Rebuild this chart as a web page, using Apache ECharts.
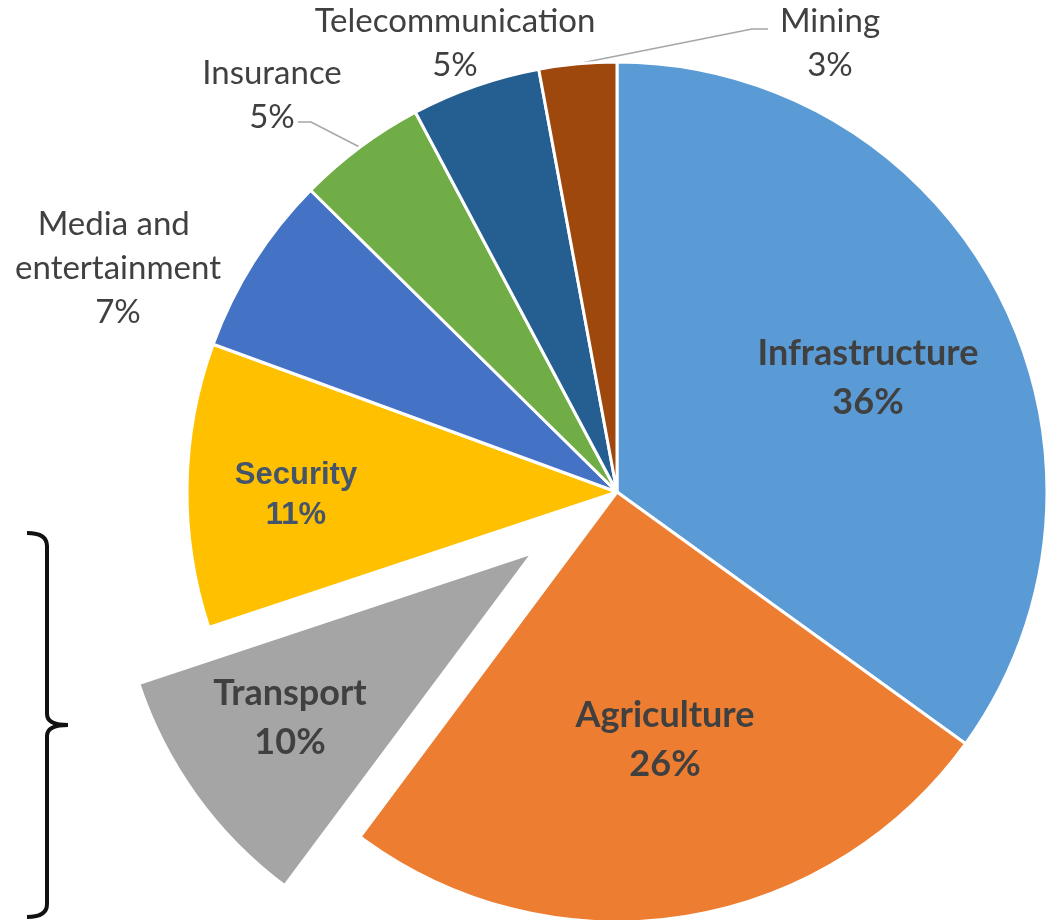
<!DOCTYPE html>
<html>
<head>
<meta charset="utf-8">
<script src="https://cdn.jsdelivr.net/npm/echarts@6/dist/echarts.min.js"></script>
<style>
  html, body { margin: 0; padding: 0; background: #ffffff; }
  #chart { width: 1055px; height: 920px; }
</style>
</head>
<body>
<div id="chart"></div>
<script>
// Sector shares, clockwise from 12 o'clock
const categories = ['Infrastructure', 'Agriculture', 'Transport', 'Security',
  'Media and entertainment', 'Insurance', 'Telecommunication', 'Mining'];
const shares = [36, 26, 10, 11, 7, 5, 5, 3];
const sliceColors = ['#5B9BD5', '#ED7D31', '#A5A5A5', '#FFC000',
  '#4472C4', '#70AD47', '#255E91', '#9E480E'];
const pulledOut = 'Transport';
const boldLabels = ['Infrastructure', 'Agriculture', 'Transport', 'Security'];
const leaderLabels = ['Insurance', 'Mining'];

// Pie geometry
const pieCenter = [617, 492];
const pieRadius = 430;
const pulledRadius = 415;
const pullDistance = 104;

// Where each label block sits (centre of the text block, in px)
const labelSpots = {
  'Infrastructure': [868, 378],
  'Agriculture': [665, 740],
  'Transport': [290, 718],
  'Security': [296, 495],
  'Media and entertainment': [118, 268],
  'Insurance': [272, 95],
  'Telecommunication': [455, 43],
  'Mining': [830, 43]
};
// Elbow and end of the two leader lines
const leaderPaths = {
  'Insurance': [[311, 122], [298, 122]],
  'Mining': [[752, 29], [768, 29]]
};

const plainFont = { fontFamily: 'Lato', fontSize: 33, lineHeight: 44, color: '#404040', fontWeight: 'normal' };
const boldFont = { fontFamily: 'Lato', fontSize: 36, lineHeight: 49, color: '#404040', fontWeight: 'bold' };
const securityFont = { fontFamily: 'Liberation Sans', fontSize: 31, lineHeight: 40, color: '#44546A', fontWeight: 'bold' };
const hidden = { color: 'rgba(0,0,0,0)', borderWidth: 0 };

// The pulled-out slice is drawn by a second pie whose centre is shifted
// along that slice's middle direction.
const total = shares.reduce(function (a, b) { return a + b; }, 0);
const pullIndex = categories.indexOf(pulledOut);
const before = shares.slice(0, pullIndex).reduce(function (a, b) { return a + b; }, 0);
const midTurn = (before + shares[pullIndex] / 2) / total * 2 * Math.PI; // clockwise from top
const pulledCenter = [
  pieCenter[0] + Math.sin(midTurn) * pullDistance,
  pieCenter[1] - Math.cos(midTurn) * pullDistance
];

function buildData(showItem) {
  return categories.map(function (name, i) {
    const visible = showItem(name);
    if (!visible) {
      return { name: name, value: shares[i], itemStyle: hidden,
        label: { show: false }, labelLine: { show: false } };
    }
    const bold = boldLabels.indexOf(name) >= 0;
    let font = bold ? boldFont : plainFont;
    if (name === 'Security') font = securityFont;
    const item = {
      name: name,
      value: shares[i],
      itemStyle: { color: sliceColors[i] },
      label: Object.assign({ show: true, position: bold ? 'inside' : 'outside' }, font),
      labelLine: { show: leaderLabels.indexOf(name) >= 0 }
    };
    if (name === 'Media and entertainment') {
      item.label.width = 240;
      item.label.overflow = 'break';
    }
    return item;
  });
}

function placeLabel(params) {
  const name = categories[params.dataIndex];
  const spot = labelSpots[name];
  const out = { x: spot[0], y: spot[1], align: 'center', verticalAlign: 'middle' };
  const path = leaderPaths[name];
  if (path && params.labelLinePoints) {
    out.labelLinePoints = [params.labelLinePoints[0], path[0], path[1]];
  }
  return out;
}

const pieBase = {
  type: 'pie',
  startAngle: 90,
  clockwise: true,
  silent: true,
  avoidLabelOverlap: false,
  itemStyle: { borderColor: '#ffffff', borderWidth: 3 },
  label: { formatter: '{b}\n{c}%', align: 'center' },
  labelLine: { lineStyle: { color: '#A6A6A6', width: 1.5 } },
  emphasis: { disabled: true },
  labelLayout: placeLabel
};

// Curly bracket on the left, built from straight runs and quadratic turns
const bracketStroke = { stroke: '#111111', lineWidth: 4, fill: null };
function seg(x1, y1, x2, y2) {
  return { type: 'line', silent: true, shape: { x1: x1, y1: y1, x2: x2, y2: y2 }, style: bracketStroke };
}
function turn(x1, y1, cx, cy, x2, y2) {
  return { type: 'bezierCurve', silent: true,
    shape: { x1: x1, y1: y1, cpx1: cx, cpy1: cy, x2: x2, y2: y2 }, style: bracketStroke };
}

const chart = echarts.init(document.getElementById('chart'), null, { renderer: 'canvas' });
chart.setOption({
  backgroundColor: '#ffffff',
  animation: false,
  series: [
    Object.assign({}, pieBase, {
      name: 'sectors',
      center: pieCenter,
      radius: pieRadius,
      data: buildData(function (n) { return n !== pulledOut; })
    }),
    Object.assign({}, pieBase, {
      name: 'pulled',
      center: pulledCenter,
      radius: pulledRadius,
      data: buildData(function (n) { return n === pulledOut; })
    })
  ],
  graphic: [{
    type: 'group',
    silent: true,
    children: [
      turn(27, 533, 47, 533, 47, 546),
      seg(47, 546, 47, 714),
      turn(47, 714, 47, 725, 68, 725),
      turn(68, 725, 47, 725, 47, 736),
      seg(47, 736, 47, 904),
      turn(47, 904, 47, 917, 27, 917)
    ]
  }]
});
</script>
</body>
</html>
